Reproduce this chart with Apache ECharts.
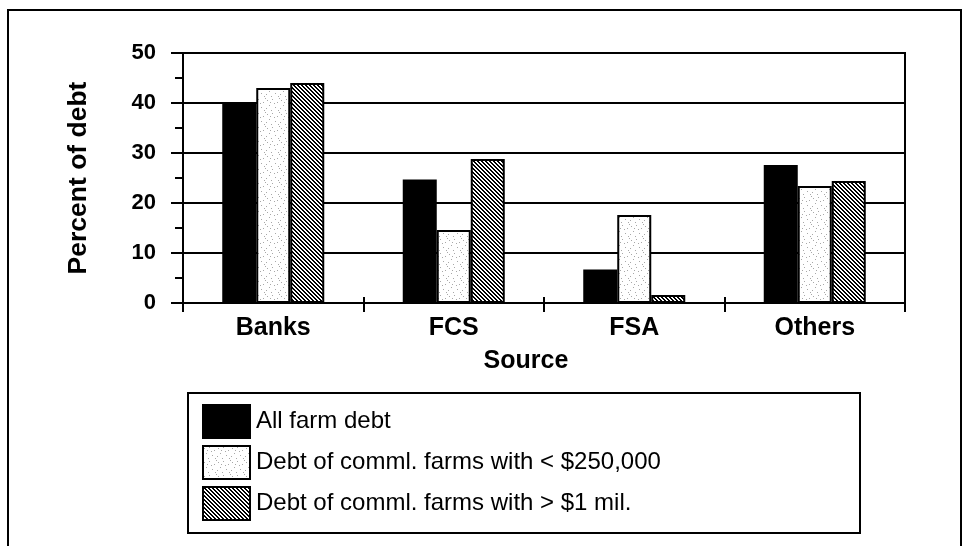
<!DOCTYPE html>
<html>
<head>
<meta charset="utf-8">
<script src="https://cdn.jsdelivr.net/npm/echarts@6/dist/echarts.min.js"></script>
<style>
html,body{margin:0;padding:0;background:#fff;}
#chart{width:964px;height:546px;}
</style>
</head>
<body>
<div id="chart"></div>
<script>
const categories = ['Banks', 'FCS', 'FSA', 'Others'];
const seriesNames = ['All farm debt', 'Debt of comml. farms with < $250,000', 'Debt of comml. farms with > $1 mil.'];
const allFarmDebt = [40, 24.7, 6.7, 27.6];
const smallFarmDebt = [43, 14.6, 17.6, 23.4];
const largeFarmDebt = [44, 28.8, 1.6, 24.4];
const yTicks = [0, 10, 20, 30, 40, 50];

function hatchPattern() {
  const c = document.createElement('canvas');
  c.width = 4; c.height = 4;
  const ctx = c.getContext('2d');
  ctx.fillStyle = '#fff'; ctx.fillRect(0, 0, 4, 4);
  ctx.fillStyle = '#000';
  for (let y = 0; y < 4; y++) for (let x = 0; x < 4; x++) {
    const d = ((x - y) % 4 + 4) % 4;
    if (d === 0 || d === 1) ctx.fillRect(x, y, 1, 1);
  }
  return c;
}
function dotPattern() {
  const c = document.createElement('canvas');
  c.width = 14; c.height = 14;
  const ctx = c.getContext('2d');
  ctx.fillStyle = '#fff'; ctx.fillRect(0, 0, 14, 14);
  const dots = [[1,2],[6,1],[11,4],[3,7],[9,9],[5,12],[12,12],[0,10],[8,5],[13,0],[4,4]];
  ctx.fillStyle = '#a8a8a8';
  dots.forEach(d => ctx.fillRect(d[0], d[1], 1, 1));
  return c;
}

const chart = echarts.init(document.getElementById('chart'));
const fills = ['#000', {image: dotPattern(), repeat: 'repeat'}, {image: hatchPattern(), repeat: 'repeat'}];
const values = [allFarmDebt, smallFarmDebt, largeFarmDebt];
const FONT = '"Liberation Sans", Arial, sans-serif';

chart.setOption({
  animation: false,
  backgroundColor: '#fff',
  grid: {left: 183, right: 59, top: 53, bottom: 243, show: true, borderColor: '#000', borderWidth: 2, backgroundColor: 'transparent'},
  legend: {
    orient: 'vertical', left: 202, top: 404, itemWidth: 47, itemHeight: 33, itemGap: 6,
    padding: 0, icon: 'rect',
    textStyle: {fontFamily: FONT, fontSize: 24, color: '#000', padding: [0, 0, 0, 1]},
    data: seriesNames
  },
  graphic: [
    {type: 'rect', shape: {x: 8, y: 10, width: 953, height: 570}, style: {fill: 'none', stroke: '#000', lineWidth: 2}, silent: true},
    {type: 'rect', shape: {x: 188, y: 393, width: 672, height: 140}, style: {fill: 'none', stroke: '#000', lineWidth: 2}, silent: true}
  ],
  xAxis: [{
    type: 'category', data: categories, boundaryGap: true,
    axisLine: {lineStyle: {color: '#000', width: 2}},
    axisTick: {show: true, length: 9, lineStyle: {color: '#000', width: 2}},
    axisLabel: {fontFamily: FONT, fontSize: 25, fontWeight: 'bold', color: '#000', margin: 13},
    name: 'Source', nameLocation: 'middle', nameGap: 46,
    nameTextStyle: {fontFamily: FONT, fontSize: 25, fontWeight: 'bold', color: '#000', padding: [0, 36, 0, 0]}
  }, {
    type: 'category', data: categories, position: 'bottom', boundaryGap: true,
    axisLine: {show: false},
    axisTick: {show: true, inside: true, length: 6, lineStyle: {color: '#000', width: 2}},
    axisLabel: {show: false}
  }],
  yAxis: [{
    type: 'value', min: 0, max: 50, interval: 10,
    axisLine: {show: true, lineStyle: {color: '#000', width: 2}},
    axisTick: {show: true, length: 12, lineStyle: {color: '#000', width: 2}},
    minorTick: {show: true, splitNumber: 2, length: 8, lineStyle: {color: '#000', width: 2}},
    splitLine: {show: true, lineStyle: {color: '#000', width: 2}},
    axisLabel: {fontFamily: FONT, fontSize: 22, fontWeight: 'bold', color: '#000', margin: 27,
      formatter: v => yTicks.indexOf(v) >= 0 ? String(v) : ''},
    name: 'Percent of debt', nameLocation: 'middle', nameGap: 91,
    nameTextStyle: {fontFamily: FONT, fontSize: 26.5, fontWeight: 'bold', color: '#000'}
  }, {
    type: 'value', min: 0, max: 50, interval: 10, position: 'left',
    axisLine: {show: false},
    axisTick: {show: false},
    minorTick: {show: true, splitNumber: 2, length: 8, lineStyle: {color: '#000', width: 2}},
    splitLine: {show: false},
    axisLabel: {show: false, inside: true}
  }],
  series: seriesNames.map((n, i) => ({
    name: n, type: 'bar', data: values[i], barWidth: 34, barGap: '0%',
    itemStyle: {color: fills[i], borderColor: '#000', borderWidth: 2},
    emphasis: {disabled: true}
  }))
});
</script>
</body>
</html>
